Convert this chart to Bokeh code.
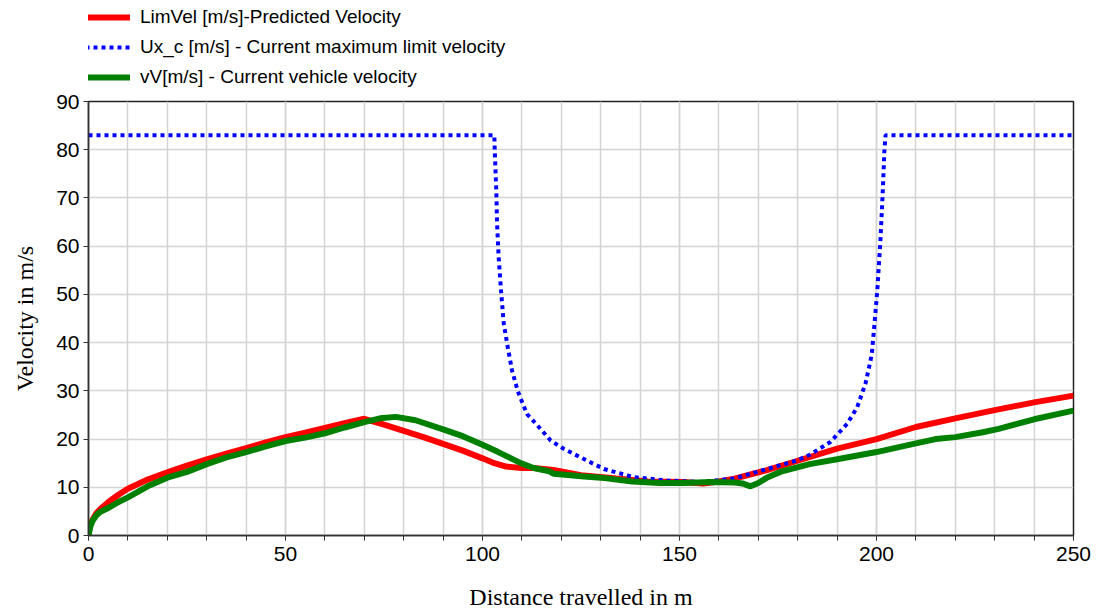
from bokeh.plotting import figure
from bokeh.models import Legend, LegendItem, FixedTicker, Range1d
from bokeh.layouts import column
from bokeh.embed import file_html
from bokeh.resources import INLINE

# LimVel [m/s] - predicted velocity
lim_x = [0, 0.3, 1, 2, 3, 5, 7.5, 10, 15, 20, 25, 30, 35, 40, 45, 50, 55, 60, 65, 70,
         75, 80, 85, 90, 95, 100, 103, 106, 110, 113, 118, 125, 134, 142, 151, 156,
         160, 164, 172, 180, 190, 200, 210, 220, 230, 240, 250]
lim_v = [0, 1.8, 3.2, 4.6, 5.5, 6.9, 8.4, 9.7, 11.6, 13.1, 14.5, 15.8, 17.0, 18.1, 19.3,
         20.4, 21.3, 22.3, 23.3, 24.2, 23.0, 21.7, 20.4, 19.0, 17.6, 16.0, 15.0, 14.3,
         14.0, 14.0, 13.6, 12.5, 11.8, 11.2, 11.1, 10.8, 11.2, 11.8, 13.5, 15.5, 18.0,
         20.0, 22.5, 24.3, 26.0, 27.6, 29.0]

# Ux_c [m/s] - current maximum limit velocity
ux_x = [0, 103, 103.1, 103.5, 103.7, 104.1, 104.7, 105.4, 106.4, 107.5, 108.6, 109.2,
        111.3, 112.2, 114.3, 117.3, 120.6, 124.9, 130.8, 138.4, 146.9, 155.3, 163.8,
        172.3, 179.9, 183.2, 188.3, 192.6, 195.1, 197.2, 198.5, 198.9, 199.5, 200.2,
        201.0, 201.6, 202.0, 202.3, 250]
ux_v = [83, 83, 80, 71.5, 64.6, 57.7, 50.8, 43.9, 39.1, 34.2, 31.0, 29.4,
        25.2, 24.4, 22.5, 19.7, 18.0, 16.2, 13.8, 12.1, 11.4, 11.1, 11.8,
        13.8, 15.6, 16.8, 19.4, 23.2, 26.6, 31.5, 36.3, 38.4, 44.0, 50.8,
        61.2, 71.5, 79.8, 83, 83]

# vV [m/s] - current vehicle velocity
vv_x = [0, 0.5, 1, 2, 3, 5, 7.5, 10, 15, 20, 25, 30, 35, 40, 45, 50, 55, 60, 65, 70,
        74, 78, 83, 90, 95, 100, 104, 107, 110, 113, 117, 118, 121, 125, 130, 138, 145,
        151, 158, 164, 166, 168, 170, 172, 176, 183, 190, 200, 210, 215, 220, 227, 231,
        240, 250]
vv_v = [0, 2.0, 3.0, 4.2, 4.9, 5.7, 6.9, 7.9, 10.2, 12.0, 13.2, 14.8, 16.2, 17.3, 18.5,
        19.6, 20.3, 21.2, 22.4, 23.5, 24.3, 24.6, 23.9, 22.0, 20.6, 18.8, 17.3, 16.1,
        14.9, 14.0, 13.3, 12.8, 12.6, 12.3, 12.0, 11.2, 10.9, 10.9, 11.1, 11.0, 10.8,
        10.2, 10.9, 11.9, 13.3, 14.8, 15.8, 17.3, 19.1, 20.0, 20.4, 21.4, 22.1, 24.1, 25.9]

x_major = [0, 50, 100, 150, 200, 250]
x_minor = list(range(0, 251, 10))
y_ticks = list(range(0, 91, 10))

labels = ["LimVel [m/s]-Predicted Velocity",
          "Ux_c [m/s] - Current maximum limit velocity",
          "vV[m/s] - Current vehicle velocity"]

styles = [dict(line_color="#ff0000", line_width=6),
          dict(line_color="#0000ff", line_width=4, line_dash="4 4"),
          dict(line_color="#008000", line_width=6)]

# ---- legend strip (above the plot) ----
top = figure(width=1097, height=89, output_backend="svg", toolbar_location=None,
             x_range=Range1d(0, 1), y_range=Range1d(0, 1),
             x_axis_type=None, y_axis_type=None,
             min_border_left=0, min_border_right=0, min_border_top=0,
             min_border_bottom=0)
top.outline_line_color = None
top.grid.visible = False
top.background_fill_color = "white"
top.border_fill_color = "white"
# proxy renderers (outside the visible range) that only carry the legend styles
lr = [top.line([5, 6], [5, 5], **s) for s in styles]
legend = Legend(items=[LegendItem(label=labels[i], renderers=[lr[i]]) for i in range(3)],
                location=(-11, -3), orientation="vertical",
                glyph_width=53, glyph_height=30, label_height=30, spacing=0,
                padding=0, margin=0, label_standoff=10,
                border_line_color=None, background_fill_alpha=0,
                label_text_font="Liberation Sans", label_text_font_size="19px",
                label_text_color="black")
top.add_layout(legend)

# ---- main plot ----
p = figure(width=1097, height=523, output_backend="svg", toolbar_location=None,
           x_range=Range1d(0, 250), y_range=Range1d(0, 90),
           min_border_left=88, min_border_right=24, min_border_top=12,
           min_border_bottom=77)
p.background_fill_color = "white"
p.border_fill_color = "white"
p.outline_line_color = "#222222"
p.outline_line_width = 1.5

r1 = p.line(lim_x, lim_v, **styles[0])
r2 = p.line(ux_x, ux_v, **styles[1])
r3 = p.line(vv_x, vv_v, **styles[2])

p.xaxis.ticker = FixedTicker(ticks=x_major, minor_ticks=x_minor)
p.yaxis.ticker = FixedTicker(ticks=y_ticks, minor_ticks=[])

for ax in (p.xaxis[0], p.yaxis[0]):
    ax.major_label_text_font = "Liberation Sans"
    ax.major_label_text_font_size = "21px"
    ax.major_label_text_color = "black"
    ax.axis_label_text_font = "Liberation Serif"
    ax.axis_label_text_font_size = "24px"
    ax.axis_label_text_font_style = "normal"
    ax.axis_label_text_color = "black"
    ax.axis_line_color = "#333333"
    ax.axis_line_width = 1.5
    ax.major_tick_line_color = "#333333"
    ax.minor_tick_line_color = "#333333"
    ax.major_tick_in = 0
    ax.major_tick_out = 5
    ax.minor_tick_in = 0
    ax.minor_tick_out = 5

p.xaxis.major_label_standoff = 6
p.yaxis.major_label_standoff = 4
p.xaxis.axis_label = "Distance travelled in m"
p.yaxis.axis_label = "Velocity in m/s"
p.xaxis.axis_label_standoff = 20
p.yaxis.axis_label_standoff = 15

p.xgrid.grid_line_color = "#d4d4d4"
p.xgrid.minor_grid_line_color = "#d4d4d4"
p.ygrid.grid_line_color = "#d4d4d4"
p.xgrid.grid_line_width = 1.5
p.xgrid.minor_grid_line_width = 1.5
p.ygrid.grid_line_width = 1.5

layout = column(top, p, spacing=0)
open("out.html", "w").write(file_html(layout, INLINE))
